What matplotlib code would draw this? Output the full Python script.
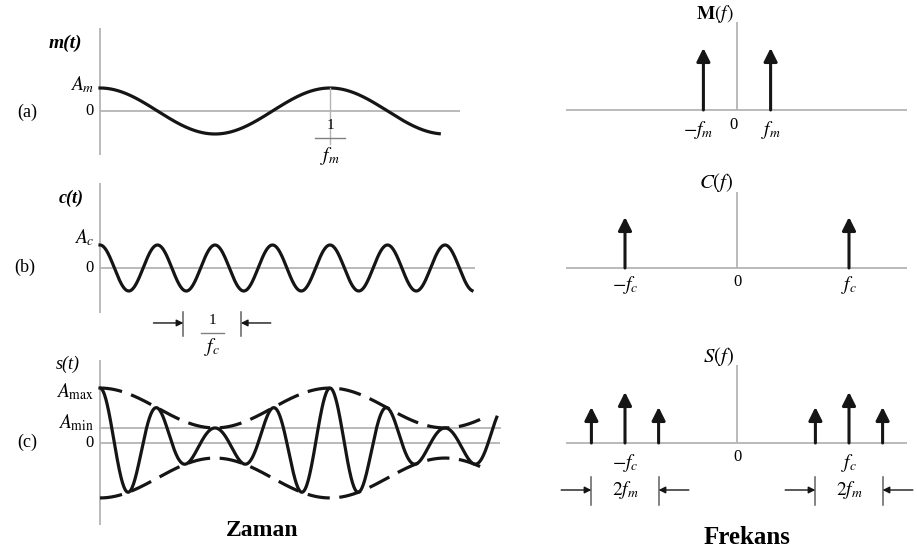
import numpy as np
import matplotlib.pyplot as plt

plt.rcParams['font.family'] = 'serif'
plt.rcParams['font.serif'] = ['Liberation Serif', 'DejaVu Serif']
plt.rcParams['mathtext.fontset'] = 'stix'

W, H = 917, 552
INK = '#151515'
AXIS = '#b4b4b4'

# time is measured in carrier periods
T_c = 1.0
T_m = 4.0
A_m = 1.0
A_c = 1.0
mod_index = 0.57

t_msg = (0.0, 5.9)
t_car = (0.0, 6.47)
t_am = (0.0, 6.9)
t_env = (0.0, 6.72)
t_mark = (1.45, 2.45)   # one carrier period, marked under c(t)

# line spectra (frequency in units of f_c)
f_m = 0.3
f_c = 1.0
m_freqs = [-f_m, f_m]
m_heights = [0.62, 0.62]
c_freqs = [-f_c, f_c]
c_heights = [0.51, 0.51]
s_freqs = [-f_c - f_m, -f_c, -f_c + f_m, f_c - f_m, f_c, f_c + f_m]
s_heights = [0.36, 0.51, 0.36, 0.36, 0.51, 0.36]

fig = plt.figure(figsize=(W / 100, H / 100), dpi=100)


def px_axes(box, origin, scale):
    # axes over a pixel box, data origin at a pixel, scale in pixels per unit
    x0, x1, y0, y1 = box
    ox, oy = origin
    sx, sy = scale
    ax = fig.add_axes([x0 / W, 1 - y1 / H, (x1 - x0) / W, (y1 - y0) / H])
    ax.set_xlim((x0 - ox) / sx, (x1 - ox) / sx)
    ax.set_ylim((oy - y1) / sy, (oy - y0) / sy)
    ax.axis('off')
    return ax


def label(px, py, s, **kw):
    kw.setdefault('ha', 'center')
    kw.setdefault('va', 'center')
    kw.setdefault('fontsize', 11)
    fig.text(px / W, 1 - py / H, s, **kw)


def axes_lines(ax, xr, yr):
    ax.plot([0, 0], yr, color=AXIS, lw=1.3, solid_capstyle='butt')
    ax.plot(xr, [0, 0], color=AXIS, lw=1.3, solid_capstyle='butt')


def dim_arrows(ax, a, b, y, y0, y1, length):
    for x in (a, b):
        ax.plot([x, x], [y0, y1], color='#606060', lw=1.1)
    props = dict(arrowstyle='-|>', color=INK, lw=1.0, mutation_scale=10,
                 shrinkA=0, shrinkB=0)
    ax.annotate('', xy=(a, y), xytext=(a - length, y), arrowprops=props,
                annotation_clip=False)
    ax.annotate('', xy=(b, y), xytext=(b + length, y), arrowprops=props,
                annotation_clip=False)


def spikes(ax, freqs, heights):
    props = dict(arrowstyle='-|>', color=INK, lw=2.2, mutation_scale=20,
                 shrinkA=0, shrinkB=0)
    for f, h in zip(freqs, heights):
        ax.annotate('', xy=(f, h), xytext=(f, 0), arrowprops=props)


# (a) message
ax_a = px_axes((0, 520, 0, 170), (100, 111), (57.5, 23))
axes_lines(ax_a, [0, 6.26], [-1.9, 3.6])
t = np.linspace(*t_msg, 500)
ax_a.plot(t, A_m * np.cos(2 * np.pi * t / T_m), color=INK, lw=2.3)
ax_a.plot([T_m, T_m], [A_m, -1.45], color=AXIS, lw=1.0)
ax_a.plot([T_m - 0.26, T_m + 0.26], [-1.17, -1.17], color='#808080', lw=1.0)
ax_a.text(T_m, -0.62, '1', ha='center', va='center', fontsize=11)
ax_a.text(T_m, -1.95, r'$f_m$', ha='center', va='center', fontsize=14)
ax_a.text(-0.1, A_m + 0.15, r'$A_m$', ha='right', va='center', fontsize=14)
ax_a.text(-0.19, 0, '0', ha='center', va='center', fontsize=12)
label(65, 43, 'm(t)', style='italic', weight='bold', fontsize=14)
label(27, 112, '(a)', fontsize=13)

# (b) carrier
ax_b = px_axes((0, 520, 170, 360), (100, 268), (57.5, 23))
axes_lines(ax_b, [0, 6.52], [-1.96, 3.7])
t = np.linspace(*t_car, 800)
ax_b.plot(t, A_c * np.cos(2 * np.pi * t / T_c), color=INK, lw=2.3)
ax_b.text(-0.1, A_c + 0.3, r'$A_c$', ha='right', va='center', fontsize=14)
ax_b.text(-0.19, 0, '0', ha='center', va='center', fontsize=12)
dim_arrows(ax_b, t_mark[0], t_mark[1], -2.39, -1.91, -2.96, 0.52)
mid = sum(t_mark) / 2
ax_b.text(mid, -2.3, '1', ha='center', va='center', fontsize=11)
ax_b.plot([mid - 0.2, mid + 0.2], [-2.83, -2.83], color='#808080', lw=1.0)
ax_b.text(mid, -3.45, r'$f_c$', ha='center', va='center', fontsize=14)
label(71, 198, 'c(t)', style='italic', weight='bold', fontsize=13)
label(25, 267, '(b)', fontsize=13)

# (c) AM signal with envelope
ax_c = px_axes((0, 520, 355, 552), (100, 443), (57.5, 35))
axes_lines(ax_c, [0, 6.96], [-2.34, 2.37])
A_max = A_c * (1 + mod_index)
A_min = A_c * (1 - mod_index)
ax_c.plot([0, 6.96], [A_min, A_min], color=AXIS, lw=1.3)
t = np.linspace(*t_am, 900)
env = A_c * (1 + mod_index * np.cos(2 * np.pi * t / T_m))
ax_c.plot(t, env * np.cos(2 * np.pi * t / T_c), color=INK, lw=2.3)
te = np.linspace(*t_env, 600)
env_e = A_c * (1 + mod_index * np.cos(2 * np.pi * te / T_m))
for sign in (1, -1):
    ax_c.plot(te, sign * env_e, color=INK, lw=2.3, ls=(0, (7, 3)),
              dash_capstyle='butt')
ax_c.text(-0.1, A_max - 0.1, r'$A_{\rm max}$', ha='right', va='center', fontsize=14)
ax_c.text(-0.1, A_min + 0.15, r'$A_{\rm min}$', ha='right', va='center', fontsize=14)
ax_c.text(-0.19, 0, '0', ha='center', va='center', fontsize=12)
label(68, 364, 's(t)', style='italic', fontsize=13)
label(27, 442, '(c)', fontsize=13)
label(262, 530, 'Zaman', weight='bold', fontsize=17)

# spectra
ax_M = px_axes((540, 917, 0, 150), (737, 110), (112, 100))
axes_lines(ax_M, [-1.53, 1.52], [0, 0.88])
spikes(ax_M, m_freqs, m_heights)
ax_M.text(-0.03, 0.96, r'$\mathbf{M}(f)$', ha='right', va='center', fontsize=14)
ax_M.text(-f_m - 0.05, -0.2, r'$-f_m$', ha='center', va='center', fontsize=14)
ax_M.text(-0.03, -0.15, '0', ha='center', va='center', fontsize=12)
ax_M.text(f_m, -0.2, r'$f_m$', ha='center', va='center', fontsize=14)

ax_C = px_axes((540, 917, 150, 320), (737, 268), (112, 100))
axes_lines(ax_C, [-1.53, 1.52], [0, 0.76])
spikes(ax_C, c_freqs, c_heights)
ax_C.text(-0.03, 0.85, r'$C(f)$', ha='right', va='center', fontsize=15)
ax_C.text(-f_c, -0.17, r'$-f_c$', ha='center', va='center', fontsize=14)
ax_C.text(0, -0.14, '0', ha='center', va='center', fontsize=12)
ax_C.text(f_c, -0.17, r'$f_c$', ha='center', va='center', fontsize=14)

ax_S = px_axes((540, 917, 320, 552), (737, 443), (112, 100))
axes_lines(ax_S, [-1.53, 1.52], [0, 0.78])
spikes(ax_S, s_freqs, s_heights)
ax_S.text(-0.03, 0.87, r'$S(f)$', ha='right', va='center', fontsize=15)
ax_S.text(-f_c, -0.2, r'$-f_c$', ha='center', va='center', fontsize=14)
ax_S.text(0, -0.14, '0', ha='center', va='center', fontsize=12)
ax_S.text(f_c, -0.2, r'$f_c$', ha='center', va='center', fontsize=14)
for fc in (-f_c, f_c):
    dim_arrows(ax_S, fc - f_m, fc + f_m, -0.47, -0.34, -0.62, 0.27)
    ax_S.text(fc, -0.47, r'$2f_m$', ha='center', va='center', fontsize=14)
label(747, 538, 'Frekans', weight='bold', fontsize=18)

fig.savefig('out.png', dpi=100, facecolor='white')
